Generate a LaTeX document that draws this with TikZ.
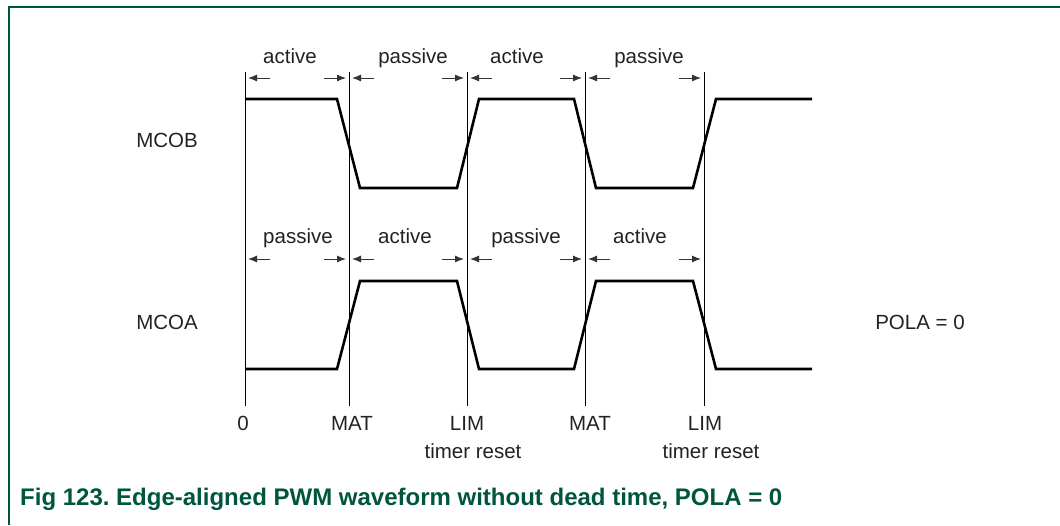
\documentclass[tikz,border=0pt]{standalone}
\usepackage{fontspec}
\setmainfont{Liberation Sans}
\frenchspacing
\usetikzlibrary{arrows.meta, positioning}
\definecolor{nxpgreen}{HTML}{00553F}
\definecolor{labelgray}{HTML}{222222}
\tikzset{
	sigline/.style={
			line width=2.6pt,
			line join=miter
		},
	tickline/.style={
			line width=0.9pt
		},
	dimarrow/.style={
			-{Latex[length=9pt,width=7pt]},
			line width=1pt,
			draw=black!80
		},
	lbl/.style={
			font=\fontsize{20.5}{24}\selectfont,
			text=labelgray,
			inner sep=0pt,
			anchor=base
		},
	captionnode/.style={
			font=\fontsize{24}{28}\selectfont\bfseries,
			text=nxpgreen,
			inner sep=0pt,
			anchor=base west
		}
}

\begin{document}
\begin{tikzpicture}[x=1pt, y=-1pt]
\useasboundingbox (0,0) rectangle (1060,525);
\draw[nxpgreen, line width=1.5pt] (9,525) -- (9,7) -- (1060,7);

% time marks
\coordinate (m0t) at (245,72);  \coordinate (m0b) at (245,406);
\coordinate (m1t) at (349,72);  \coordinate (m1b) at (349,406);
\coordinate (m2t) at (467,72);  \coordinate (m2b) at (467,406);
\coordinate (m3t) at (585,72);  \coordinate (m3b) at (585,406);
\coordinate (m4t) at (704,72);  \coordinate (m4b) at (704,406);
\draw[tickline] (m0t) -- (m0b);
\draw[tickline] (m1t) -- (m1b);
\draw[tickline] (m2t) -- (m2b);
\draw[tickline] (m3t) -- (m3b);
\draw[tickline] (m4t) -- (m4b);

% signal names
\node[lbl] (mcob) at (167,147) {MCOB};
\node[lbl] (mcoa) at (167,329) {MCOA};
\node[lbl] (pola) at (920,329) {POLA = 0};

% MCOB
\draw[sigline] (245,99) -- (337,99) -- (360,188) -- (457,188) -- (479,99)
  -- (574,99) -- (596,188) -- (693,188) -- (716,99) -- (812,99);
% MCOA
\draw[sigline] (245,369) -- (337,369) -- (360,281) -- (457,281) -- (479,369)
  -- (574,369) -- (596,281) -- (693,281) -- (716,369) -- (812,369);

% upper intervals
\node[lbl] (b1) at (290,63) {active};
\node[lbl] (b2) at (413,63) {passive};
\node[lbl] (b3) at (517,63) {active};
\node[lbl] (b4) at (649,63) {passive};
\draw[dimarrow] (270,78) -- (248,78);
\draw[dimarrow] (324,78) -- (346,78);
\draw[dimarrow] (374,78) -- (352,78);
\draw[dimarrow] (442,78) -- (464,78);
\draw[dimarrow] (492,78) -- (470,78);
\draw[dimarrow] (560,78) -- (582,78);
\draw[dimarrow] (610,78) -- (588,78);
\draw[dimarrow] (679,78) -- (701,78);

% lower intervals
\node[lbl] (a1) at (298,243) {passive};
\node[lbl] (a2) at (405,243) {active};
\node[lbl] (a3) at (526,243) {passive};
\node[lbl] (a4) at (640,243) {active};
\draw[dimarrow] (270,259) -- (248,259);
\draw[dimarrow] (324,259) -- (346,259);
\draw[dimarrow] (374,259) -- (352,259);
\draw[dimarrow] (442,259) -- (464,259);
\draw[dimarrow] (492,259) -- (470,259);
\draw[dimarrow] (560,259) -- (582,259);
\draw[dimarrow] (610,259) -- (588,259);
\draw[dimarrow] (679,259) -- (701,259);

% time labels
\node[lbl] (t0) at (243,430) {0};
\node[lbl] (t1) at (352,430) {MAT};
\node[lbl] (t2) at (467,430) {LIM};
\node[lbl] (t3) at (590,430) {MAT};
\node[lbl] (t4) at (705,430) {LIM};
\node[lbl] (r2) at (473,458) {timer reset};
\node[lbl] (r4) at (711,458) {timer reset};

\node[captionnode] (cap) at (20,505) {Fig 123. Edge-aligned PWM waveform without dead time, POLA = 0};
\end{tikzpicture}
\end{document}
